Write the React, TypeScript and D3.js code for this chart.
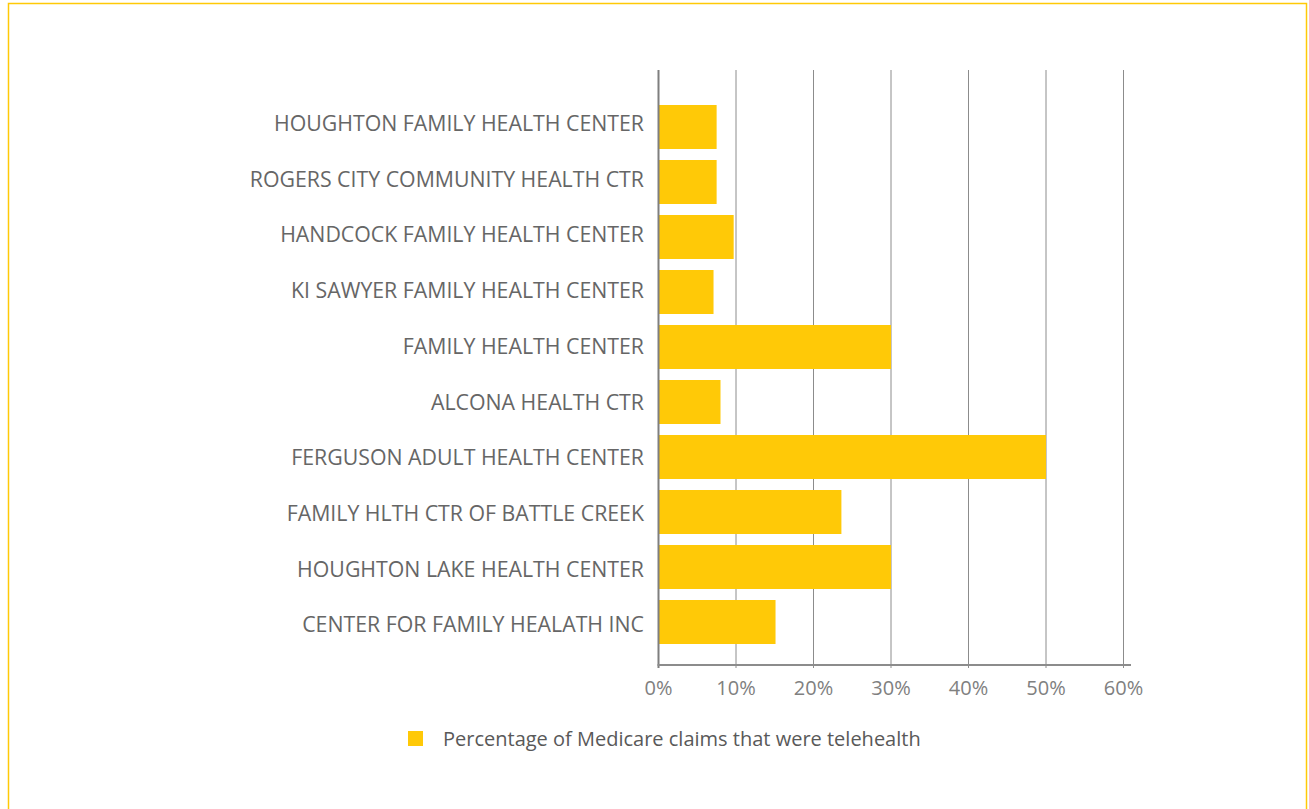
import React from "react";
import * as d3 from "d3";

const categories = [
  "HOUGHTON FAMILY HEALTH CENTER",
  "ROGERS CITY COMMUNITY HEALTH CTR",
  "HANDCOCK FAMILY HEALTH CENTER",
  "KI SAWYER FAMILY HEALTH CENTER",
  "FAMILY HEALTH CENTER",
  "ALCONA HEALTH CTR",
  "FERGUSON ADULT HEALTH CENTER",
  "FAMILY HLTH CTR OF BATTLE CREEK",
  "HOUGHTON LAKE HEALTH CENTER",
  "CENTER FOR FAMILY HEALATH INC",
];
const values = [0.075, 0.075, 0.097, 0.071, 0.30, 0.08, 0.50, 0.236, 0.30, 0.151];
const ticks = [0, 0.1, 0.2, 0.3, 0.4, 0.5, 0.6];
const seriesName = "Percentage of Medicare claims that were telehealth";

const FONT = "'Open Sans', 'Noto Sans', sans-serif";
const BAR = "#FFC907";

export default function App() {
  const x = d3.scaleLinear().domain([0, 0.6]).range([658.5, 1123.5]);
  const y = d3.scaleBand<string>().domain(categories).range([99.5, 649.5]).paddingInner(0.2).paddingOuter(0.1);
  const yLabel = d3.scalePoint<string>().domain(categories).range([123.5, 625]);
  const fmt = d3.format(".0%");
  return (
    <svg width={1309} height={809} style={{ position: "absolute", left: 0, top: 0, background: "#fff" }}>
      <rect x={8.5} y={3.5} width={1298} height={820} fill="none" stroke="#FFC907" strokeWidth={1.5} />
      {ticks.map((t) => (
        <line key={t} x1={x(t)} x2={x(t)} y1={70} y2={668} stroke="#8c8c8c" strokeWidth={1} />
      ))}
      {categories.map((c, i) => (
        <rect key={c} x={x(0)} y={y(c)} width={x(values[i]) - x(0)} height={y.bandwidth()} fill={BAR} />
      ))}
      <line x1={x(0)} x2={x(0)} y1={70} y2={668} stroke="#7f7f7f" strokeWidth={2} />
      <line x1={657.5} x2={1131} y1={665} y2={665} stroke="#8c8c8c" strokeWidth={2} />
      {categories.map((c) => (
        <text key={c} x={644} y={yLabel(c)} dy="0.35em" textAnchor="end"
          fontFamily={FONT} fontSize={21.3} fill="#666666">{c}</text>
      ))}
      {ticks.map((t) => (
        <text key={t} x={x(t)} y={688} dy="0.35em" textAnchor="middle" fontFamily={FONT} fontSize={20} fill="#808080">
          {fmt(t)}
        </text>
      ))}
      <rect x={408} y={731} width={15} height={15} fill={BAR} />
      <text x={443} y={739} dy="0.35em" fontFamily={FONT} fontSize={20} fill="#595959">{seriesName}</text>
    </svg>
  );
}
